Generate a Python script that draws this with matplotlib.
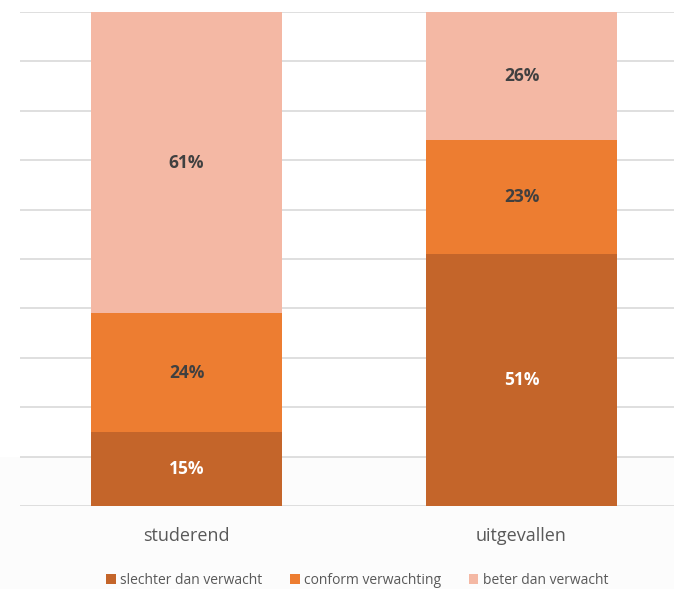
import matplotlib.pyplot as plt
from matplotlib.patches import Rectangle

plt.rcParams['font.family'] = ['Open Sans', 'DejaVu Sans']

# data
categorieen = ['studerend', 'uitgevallen']
slechter = [15, 51]
conform = [24, 23]
beter = [61, 26]
reeks_namen = ['slechter dan verwacht', 'conform verwachting', 'beter dan verwacht']

kleuren = ['#c4652a', '#ed7d31', '#f4b8a4']
label_kleuren = ['white', '#404040', '#404040']

fig = plt.figure(figsize=(6.74, 5.89), dpi=100)
fig.patches.append(Rectangle((0, 0), 1, 1 - 457 / 589, transform=fig.transFigure,
                             facecolor='#fcfcfc', edgecolor='none', zorder=-10))
ax = fig.add_axes([20 / 674, 1 - 506 / 589, 654 / 674, 494 / 589])
ax.patch.set_alpha(0)

x = list(range(len(categorieen)))
onder = [0] * len(categorieen)
for waarden, kleur, lk, naam in zip([slechter, conform, beter], kleuren, label_kleuren, reeks_namen):
    bars = ax.bar(x, waarden, width=0.57, bottom=onder, color=kleur, label=naam, zorder=3)
    for b, w, o in zip(bars, waarden, onder):
        ax.text(b.get_x() + b.get_width() / 2, o + w / 2, f'{w}%', ha='center', va='center',
                color=lk, fontsize=12.5, fontweight='bold', zorder=4)
    onder = [o + w for o, w in zip(onder, waarden)]

ax.set_xlim(-0.497, 1.455)
ax.set_ylim(0, 100)
ax.set_yticks(range(0, 101, 10))
ax.yaxis.grid(True, color='#d9d9d9', linewidth=1.2, zorder=0)
ax.tick_params(axis='y', length=0, labelleft=False)
ax.tick_params(axis='x', length=0, pad=15, labelsize=13, labelcolor='#595959')
ax.set_xticks(x)
ax.set_xticklabels(categorieen)
for s in ax.spines.values():
    s.set_visible(False)

fig.legend(loc='center', bbox_to_anchor=(357 / 674, 1 - 580 / 589), ncol=3, frameon=False,
           fontsize=10, handlelength=0.7, handleheight=0.7, handletextpad=0.3,
           columnspacing=2.0, labelcolor='#595959')

fig.savefig('out.png', dpi=100)
